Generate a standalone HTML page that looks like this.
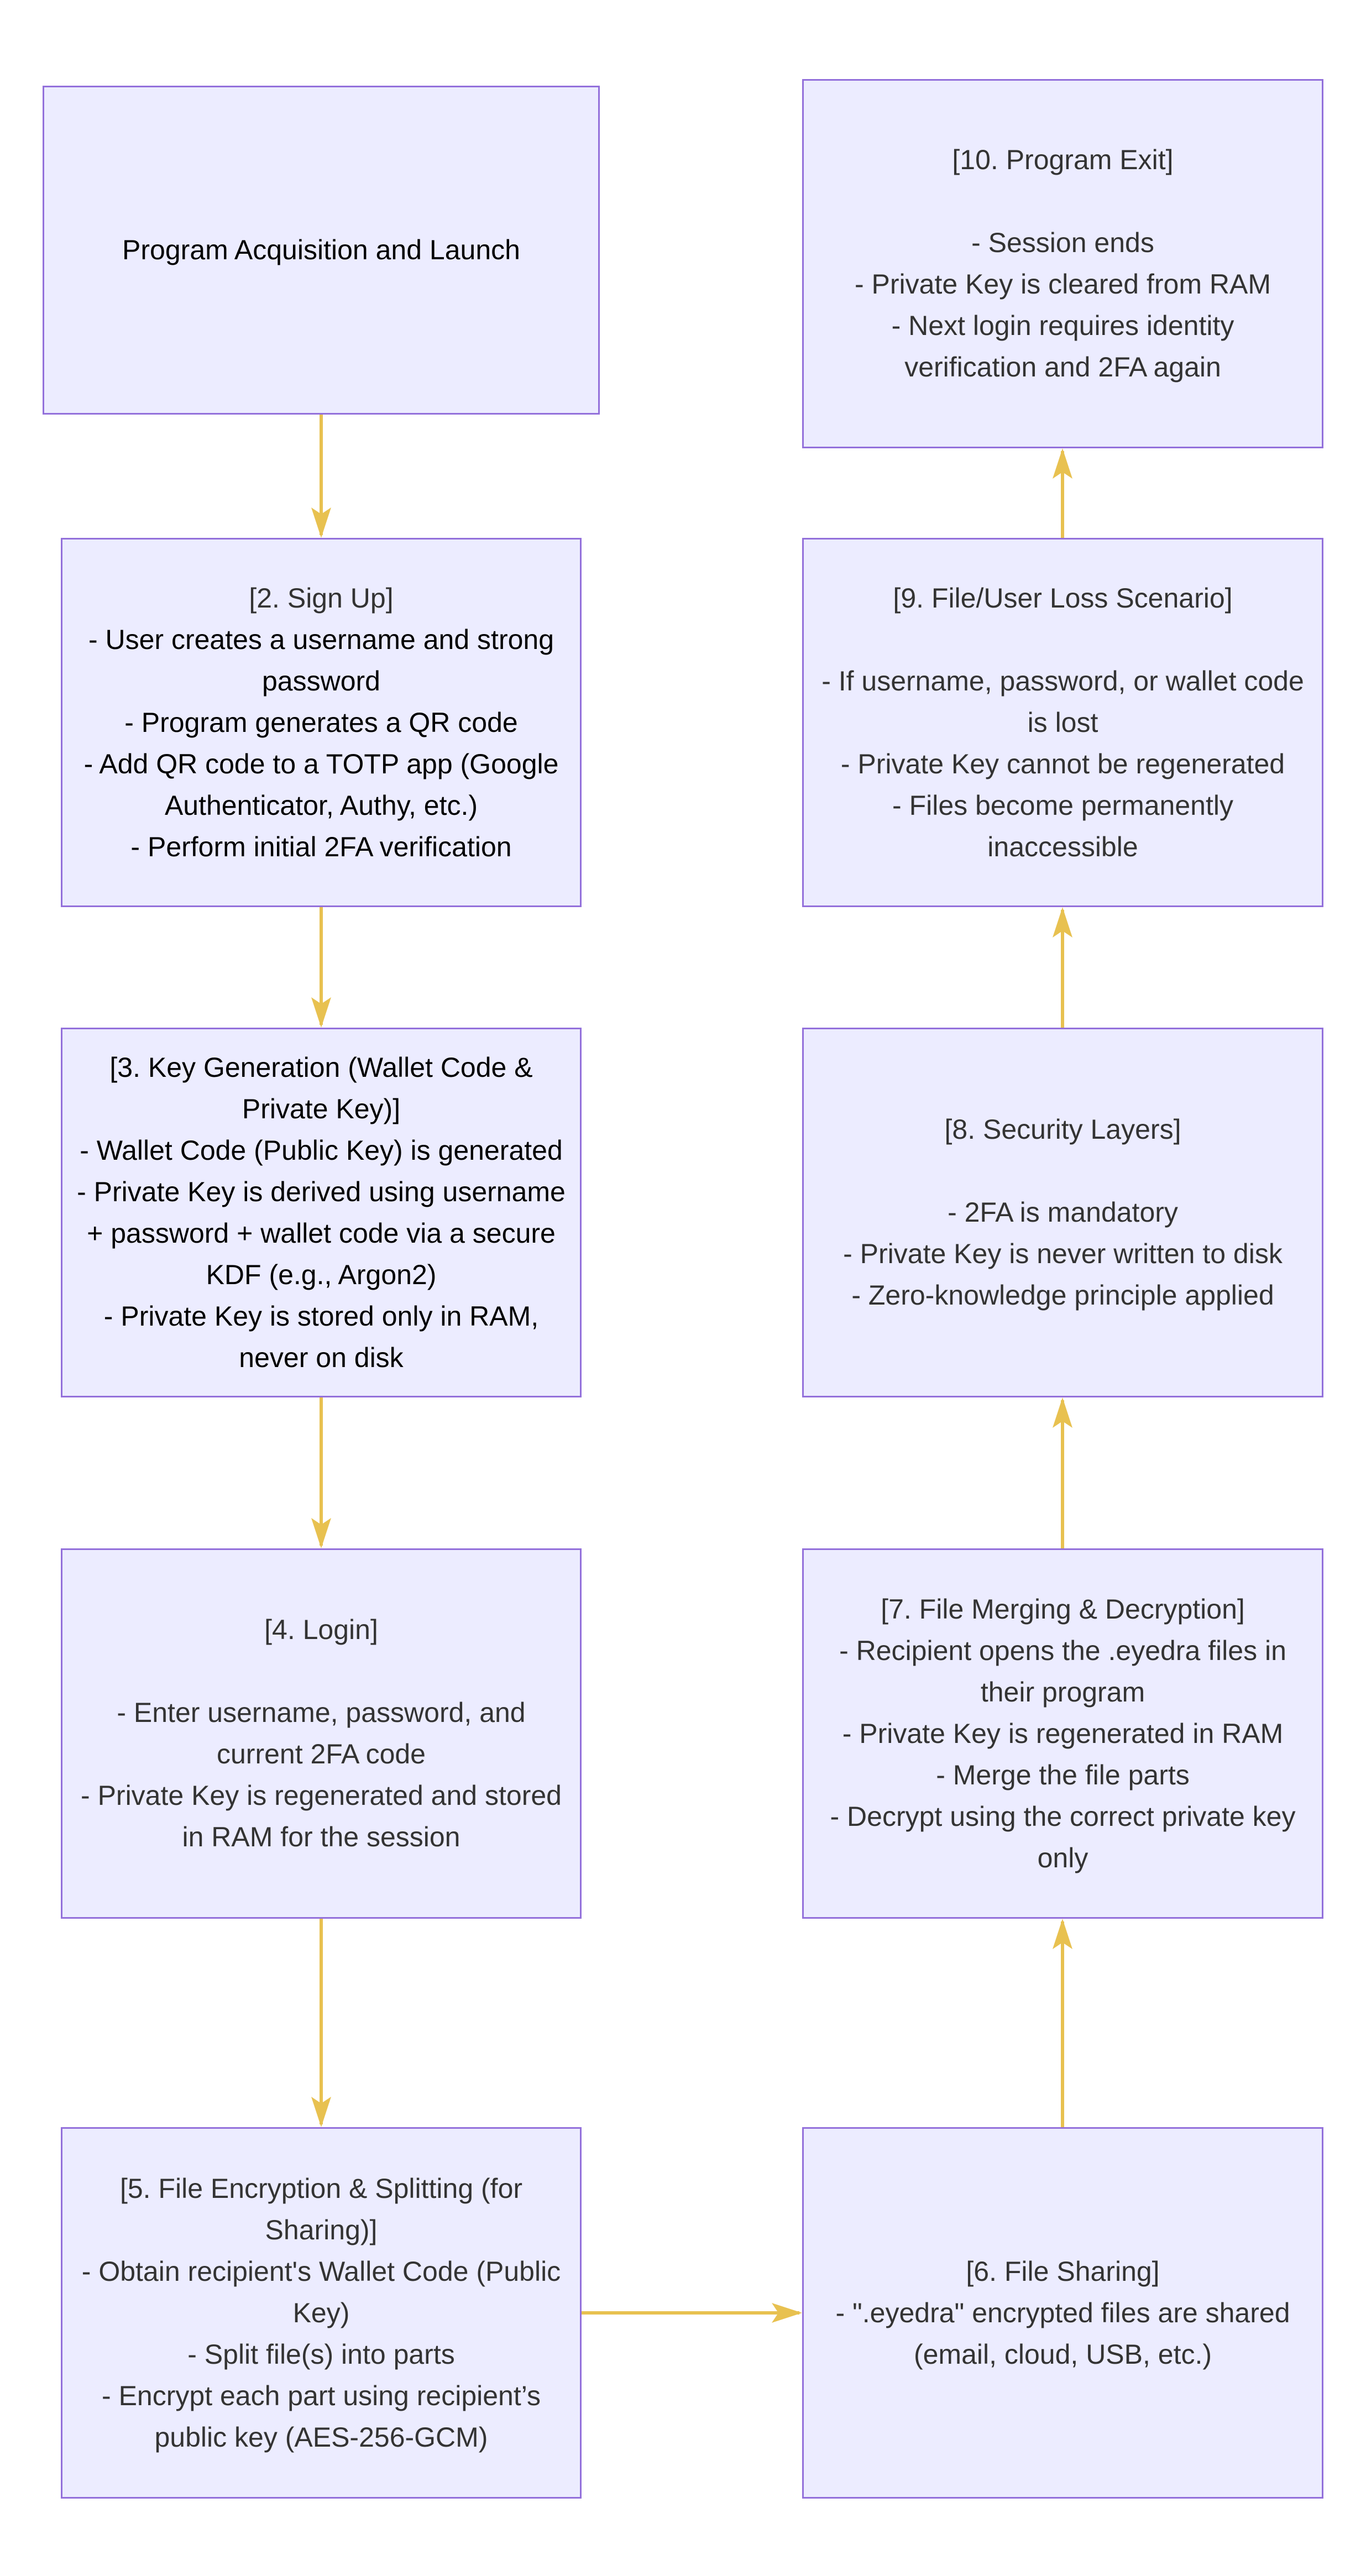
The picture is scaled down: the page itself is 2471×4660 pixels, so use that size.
<!DOCTYPE html>
<html><head><meta charset="utf-8"><style>
html,body{margin:0;padding:0;background:#fff;}
body{width:2471px;height:4660px;position:relative;overflow:hidden;font-family:"Liberation Sans",sans-serif;}
.b{position:absolute;box-sizing:border-box;background:#ECECFF;border:3px solid #9370DB;display:flex;align-items:center;justify-content:center;text-align:center;font-size:50px;line-height:75px;color:#333;white-space:nowrap;}
svg{position:absolute;left:0;top:0;}
</style></head><body>
<svg width="2471" height="4660">
<g stroke="#E8C150" stroke-width="6" fill="none">
<line x1="581" y1="750" x2="581" y2="968"/>
<line x1="581" y1="1641" x2="581" y2="1854"/>
<line x1="581" y1="2528" x2="581" y2="2796"/>
<line x1="581" y1="3471" x2="581" y2="3843"/>
<line x1="1052" y1="4184" x2="1446" y2="4184"/>
<line x1="1922" y1="3848" x2="1922" y2="3476"/>
<line x1="1922" y1="2801" x2="1922" y2="2533"/>
<line x1="1922" y1="1859" x2="1922" y2="1646"/>
<line x1="1922" y1="973" x2="1922" y2="816"/>
</g>
<g fill="#E8C150">
<path d="M563,918 L581,973 L599,918 L581,930 z"/>
<path d="M563,1804 L581,1859 L599,1804 L581,1816 z"/>
<path d="M563,2746 L581,2801 L599,2746 L581,2758 z"/>
<path d="M563,3793 L581,3848 L599,3793 L581,3805 z"/>
<path d="M1396,4166 L1451,4184 L1396,4202 L1408,4184 z"/>
<path d="M1904,3526 L1922,3471 L1940,3526 L1922,3514 z"/>
<path d="M1904,2583 L1922,2528 L1940,2583 L1922,2571 z"/>
<path d="M1904,1696 L1922,1641 L1940,1696 L1922,1684 z"/>
<path d="M1904,866 L1922,811 L1940,866 L1922,854 z"/>
</g>
</svg>
<div class="b" style="left:77px;top:155px;width:1008px;height:595px;color:#000">Program Acquisition and Launch</div>
<div class="b" style="left:1451px;top:143px;width:943px;height:668px"><div>[10. Program Exit]<br><br>- Session ends<br>- Private Key is cleared from RAM<br>- Next login requires identity<br>verification and 2FA again</div></div>
<div class="b" style="left:110px;top:973px;width:942px;height:668px"><div>[2. Sign Up]<br><span style="color:#000">- User creates a username and strong<br>password<br>- Program generates a QR code<br>- Add QR code to a TOTP app (Google<br>Authenticator, Authy, etc.)<br>- Perform initial 2FA verification</span></div></div>
<div class="b" style="left:1451px;top:973px;width:943px;height:668px"><div>[9. File/User Loss Scenario]<br><br>- If username, password, or wallet code<br>is lost<br>- Private Key cannot be regenerated<br>- Files become permanently<br>inaccessible</div></div>
<div class="b" style="left:110px;top:1859px;width:942px;height:669px;color:#000"><div>[3. Key Generation (Wallet Code &amp;<br>Private Key)]<br>- Wallet Code (Public Key) is generated<br>- Private Key is derived using username<br>+ password + wallet code via a secure<br>KDF (e.g., Argon2)<br>- Private Key is stored only in RAM,<br>never on disk</div></div>
<div class="b" style="left:1451px;top:1859px;width:943px;height:669px"><div>[8. Security Layers]<br><br>- 2FA is mandatory<br>- Private Key is never written to disk<br>- Zero-knowledge principle applied</div></div>
<div class="b" style="left:110px;top:2801px;width:942px;height:670px"><div>[4. Login]<br><br>- Enter username, password, and<br>current 2FA code<br>- Private Key is regenerated and stored<br>in RAM for the session</div></div>
<div class="b" style="left:1451px;top:2801px;width:943px;height:670px"><div>[7. File Merging &amp; Decryption]<br>- Recipient opens the .eyedra files in<br>their program<br>- Private Key is regenerated in RAM<br>- Merge the file parts<br>- Decrypt using the correct private key<br>only</div></div>
<div class="b" style="left:110px;top:3848px;width:942px;height:672px"><div>[5. File Encryption &amp; Splitting (for<br>Sharing)]<br>- Obtain recipient's Wallet Code (Public<br>Key)<br>- Split file(s) into parts<br>- Encrypt each part using recipient’s<br>public key (AES-256-GCM)</div></div>
<div class="b" style="left:1451px;top:3848px;width:943px;height:672px"><div>[6. File Sharing]<br>- ".eyedra" encrypted files are shared<br>(email, cloud, USB, etc.)</div></div>
</body></html>
